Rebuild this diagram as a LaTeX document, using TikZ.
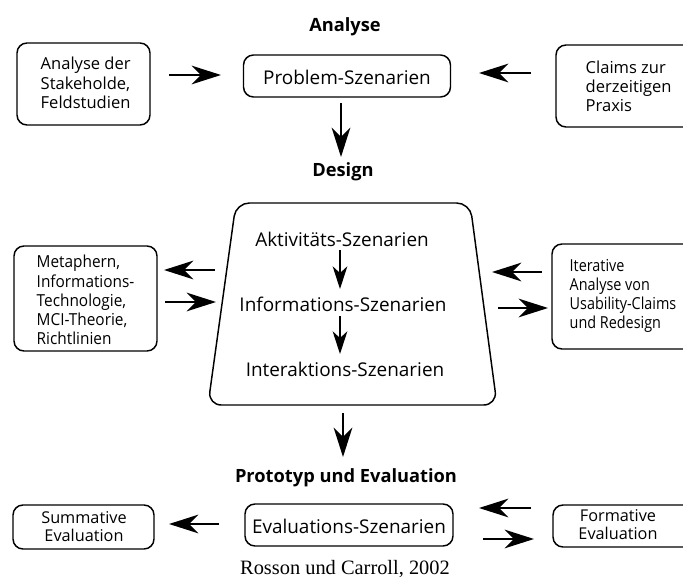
\documentclass[tikz,border=0pt]{standalone}
\usepackage{fontspec}
\newfontfamily\osans{Open Sans}
\newfontfamily\osansn[FakeStretch=0.93]{Open Sans}
\newfontfamily\osanst[FakeStretch=0.87]{Open Sans}
\newfontfamily\capserif{Liberation Serif}
\usetikzlibrary{arrows.meta}
\tikzset{
  box/.style={draw, line width=1.1pt, rounded corners=7.5pt, inner sep=0pt},
  big/.style={line width=1.5pt, -{Stealth[length=22pt, width=14pt, inset=7pt]}},
  small/.style={line width=1pt, -{Stealth[length=17pt, width=11pt, inset=5pt]}},
  head/.style={font=\osans\bfseries\fontsize{13.7pt}{16pt}\selectfont},
  mid/.style={font=\osans\fontsize{14.2pt}{17pt}\selectfont},
  sm/.style={font=\osans\fontsize{12.4pt}{14.4pt}\selectfont, align=left},
  smn/.style={font=\osansn\fontsize{12.4pt}{14.4pt}\selectfont, align=left},
  smt/.style={font=\osanst\fontsize{12.4pt}{14.4pt}\selectfont, align=left},
  smc/.style={font=\osans\fontsize{12.2pt}{13.6pt}\selectfont, align=center},
}
\begin{document}
\begin{tikzpicture}[x=0.75pt, y=-0.75pt]
\useasboundingbox (0,0) rectangle (683,585);
\clip (0,0) rectangle (683,585);
% headings
\node[head] (hA) at (345,27) {Analyse};
\node[head] (hD) at (343,172) {Design};
\node[head] (hP) at (346,478) {Prototyp und Evaluation};
% Analyse row
\draw[box] (17,43) rectangle (150,125);
\node[sm, anchor=west] (stake) at (36,83) {Analyse der\\Stakeholde,\\Feldstudien};
\node[box, minimum width=155.25pt, minimum height=31.5pt] (prob) at (347,76) {};
\node[mid] (probT) at (347,77) {Problem-Szenarien};
\draw[box] (556,45) rectangle (700,127);
\node[sm, anchor=west] (claims) at (581,86) {Claims zur\\derzeitigen\\Praxis};
\coordinate (a1s) at (169,75); \coordinate (a1e) at (221,75);
\draw[big] (a1s) -- (a1e);
\coordinate (a2s) at (531,73); \coordinate (a2e) at (479,73);
\draw[big] (a2s) -- (a2e);
\coordinate (a3s) at (341,103); \coordinate (a3e) at (341,157);
\draw[big] (a3s) -- (a3e);
% Design trapezoid
\draw[line width=1.1pt, rounded corners=10pt] (236,203) -- (470,203) -- (497,405) -- (208,405) -- cycle;
\node[mid] (akt) at (342,239) {Aktivitäts-Szenarien};
\node[mid] (inf) at (343,304) {Informations-Szenarien};
\node[mid] (int) at (345,369) {Interaktions-Szenarien};
\coordinate (s1s) at (340,250); \coordinate (s1e) at (340,289);
\draw[small] (s1s) -- (s1e);
\coordinate (s2s) at (340,316); \coordinate (s2e) at (340,354);
\draw[small] (s2s) -- (s2e);
% left design box
\draw[box] (14,246) rectangle (157,351);
\node[smn, anchor=west] (meta) at (32,300) {Metaphern,\\Informations-\\Technologie,\\MCI-Theorie,\\Richtlinien};
\coordinate (l1s) at (215,270); \coordinate (l1e) at (164,270);
\draw[big] (l1s) -- (l1e);
\coordinate (l2s) at (165,302); \coordinate (l2e) at (216,302);
\draw[big] (l2s) -- (l2e);
% right design box
\draw[box] (552,244) rectangle (700,349);
\node[smt, anchor=west] (iter) at (565,296) {Iterative\\Analyse von\\Usability-Claims\\und Redesign};
\coordinate (r1s) at (542,272); \coordinate (r1e) at (492,272);
\draw[big] (r1s) -- (r1e);
\coordinate (r2s) at (498,308); \coordinate (r2e) at (548,308);
\draw[big] (r2s) -- (r2e);
\coordinate (a4s) at (343,413); \coordinate (a4e) at (343,457);
\draw[big] (a4s) -- (a4e);
% Evaluation row
\draw[box] (13,505) rectangle (154,549);
\node[smc] (summ) at (84,527) {Summative\\Evaluation};
\node[box, minimum width=156pt, minimum height=31.5pt] (eval) at (349,525) {};
\node[mid] (evalT) at (349,526) {Evaluations-Szenarien};
\draw[box] (553,505) rectangle (700,547);
\node[smc] (form) at (618,525) {Formative\\Evaluation};
\coordinate (e1s) at (219,524); \coordinate (e1e) at (169,524);
\draw[big] (e1s) -- (e1e);
\coordinate (e2s) at (531,508); \coordinate (e2e) at (479,508);
\draw[big] (e2s) -- (e2e);
\coordinate (e3s) at (483,539); \coordinate (e3e) at (534,539);
\draw[big] (e3s) -- (e3e);
% caption
\node[font=\capserif\fontsize{15.3pt}{18pt}\selectfont] (cap) at (345,569) {Rosson und Carroll, 2002};
\end{tikzpicture}
\end{document}
